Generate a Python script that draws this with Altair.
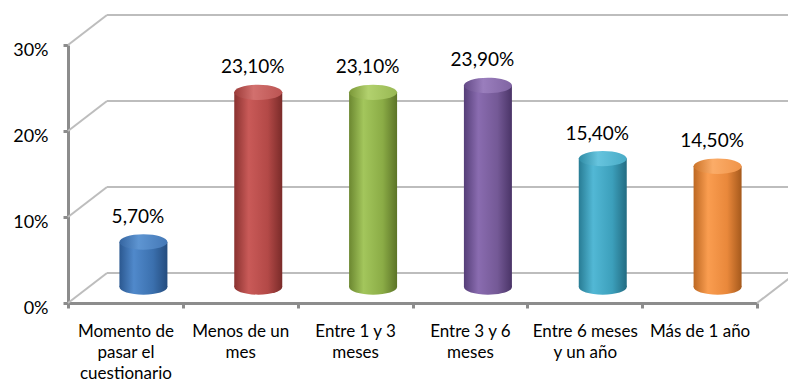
import altair as alt
import pandas as pd

# Survey answers: how long ago the event happened (share of respondents, %)
categories = [
    "Momento de\npasar el\ncuestionario",
    "Menos de un\nmes",
    "Entre 1 y 3\nmeses",
    "Entre 3 y 6\nmeses",
    "Entre 6 meses\ny un año",
    "Más de 1 año",
]
values = [5.7, 23.1, 23.1, 23.9, 15.4, 14.5]
y_ticks = [0, 10, 20, 30]

# Cylinder shading (left edge, highlight, body, right edge) and top-cap tones
body_palettes = [
    ["#2b5890", "#5089cb", "#3b70ae", "#244c7e"],
    ["#8a3230", "#c95a58", "#b34947", "#7a2b29"],
    ["#6b8730", "#a3c65c", "#8bac46", "#5c7427"],
    ["#553e78", "#8a6cb0", "#745996", "#4a3467"],
    ["#287c94", "#52b8d5", "#3c9fbb", "#236c82"],
    ["#bd6822", "#fa9d50", "#e9883b", "#a5591c"],
]
cap_palettes = [
    ["#3565a0", "#5e95d2", "#4478b6"],
    ["#9c3b39", "#d2706e", "#bb5452"],
    ["#7b9838", "#b2d16e", "#98b853"],
    ["#634986", "#9a7ebd", "#8064a2"],
    ["#2f8ba4", "#66c4de", "#48abc6"],
    ["#cc7429", "#fbac68", "#f09449"],
]

W, H = 689, 258          # front plane of the plot
DX, DY = 39, -30         # depth of the 3-D box (back wall shift)
MID_DX = 18              # bars stand halfway into the box
TOP_DY, BOT_DY = -12, -16
BAR_W = 48
GRID = "#bdbdbd"
AXIS_GREY = "#8c8c8c"
FONT = "Lato"

# Ellipse outline in [-1, 1] units, used for the cylinder caps
ELLIPSE = (
    "M -1 0 C -1 -0.177 -0.552 -0.32 0 -0.32 C 0.552 -0.32 1 -0.177 1 0 "
    "C 1 0.177 0.552 0.32 0 0.32 C -0.552 0.32 -1 0.177 -1 0 Z"
)


def hgrad(colors, offsets):
    return alt.LinearGradient(
        gradient="linear",
        x1=0, x2=1, y1=0, y2=0,
        stops=[alt.GradientStop(offset=o, color=c) for c, o in zip(colors, offsets)],
    )


df = pd.DataFrame({"cat": categories, "v": values, "idx": list(range(len(values)))})
ticks_df = pd.DataFrame({"v": y_ticks})
floor_df = pd.DataFrame({"v": [0]})

x_enc = alt.X(
    "cat:N",
    title=None,
    sort=categories,
    scale=alt.Scale(domain=categories, paddingInner=0, paddingOuter=0),
)
y_scale = alt.Scale(domain=[0, 30], nice=False, zero=True)
y_axis = alt.Axis(values=y_ticks, labelExpr="datum.value + '%'", grid=False)
y_enc = alt.Y("v:Q", title=None, scale=y_scale, axis=y_axis)

# Back wall gridlines and the diagonal side-wall lines
back_grid = alt.Chart(ticks_df).mark_rule(
    color=GRID, strokeWidth=2, xOffset=DX, x2Offset=DX, yOffset=DY
).encode(x=alt.value(0), x2=alt.value(W), y=y_enc)

side_grid = alt.Chart(ticks_df).mark_rule(
    color=GRID, strokeWidth=2, y2Offset=DY
).encode(x=alt.value(0), x2=alt.value(DX), y=y_enc, y2=alt.Y2("v"))

floor_edge = alt.Chart(floor_df).mark_rule(
    color=GRID, strokeWidth=2, y2Offset=DY
).encode(x=alt.value(W), x2=alt.value(W + DX), y=y_enc, y2=alt.Y2("v"))

layers = [back_grid, side_grid, floor_edge]

base = alt.Chart(df)
for i in range(len(values)):
    body = hgrad(body_palettes[i], [0, 0.3, 0.7, 1])
    cap = hgrad(cap_palettes[i], [0, 0.4, 1])
    sel = base.transform_filter(alt.datum.idx == i)
    bottom = sel.mark_point(
        shape=ELLIPSE, size=BAR_W * BAR_W, filled=True, fill=body,
        strokeWidth=0, opacity=1, xOffset=MID_DX, yOffset=BOT_DY,
    ).encode(x=x_enc, y=alt.datum(0, scale=y_scale, axis=y_axis))
    column = sel.mark_bar(
        width=BAR_W, fill=body, xOffset=MID_DX, yOffset=TOP_DY, y2Offset=BOT_DY,
    ).encode(x=x_enc, y=y_enc, y2=alt.datum(0))
    top = sel.mark_point(
        shape=ELLIPSE, size=BAR_W * BAR_W, filled=True, fill=cap,
        strokeWidth=0, opacity=1, xOffset=MID_DX, yOffset=TOP_DY,
    ).encode(x=x_enc, y=y_enc)
    layers += [bottom, column, top]

labels = base.transform_calculate(
    label="replace(format(datum.v, '.2f'), '.', ',') + '%'"
).mark_text(
    font=FONT, fontSize=19, color="#000000", align="center",
    baseline="alphabetic", xOffset=12.5, yOffset=-31,
).encode(x=x_enc, y=y_enc, text="label:N")
layers.append(labels)

chart = (
    alt.layer(*layers)
    .properties(
        width=W,
        height=H,
        autosize=alt.AutoSizeParams(type="none"),
        padding={"left": 68, "top": 45, "right": 31, "bottom": 85},
        background="#ffffff",
    )
    .configure_view(stroke=None)
    .configure_axisX(
        domainColor=AXIS_GREY, domainWidth=3,
        tickColor=AXIS_GREY, tickWidth=3, tickSize=5, tickBand="extent",
        labelFont=FONT, labelFontSize=17, labelColor="#000000",
        labelAngle=0, labelBaseline="alphabetic", labelLineHeight=21,
        labelPadding=28, labelExpr="split(datum.label, '\\n')",
        grid=False,
    )
    .configure_axisY(
        domainColor=AXIS_GREY, domainWidth=3,
        tickColor=AXIS_GREY, tickWidth=3, tickSize=5,
        labelFont=FONT, labelFontSize=18, labelColor="#000000",
        labelPadding=15, labelOffset=5, grid=False,
    )
)

chart.save("out.html", embed_options={"renderer": "svg", "actions": False})
